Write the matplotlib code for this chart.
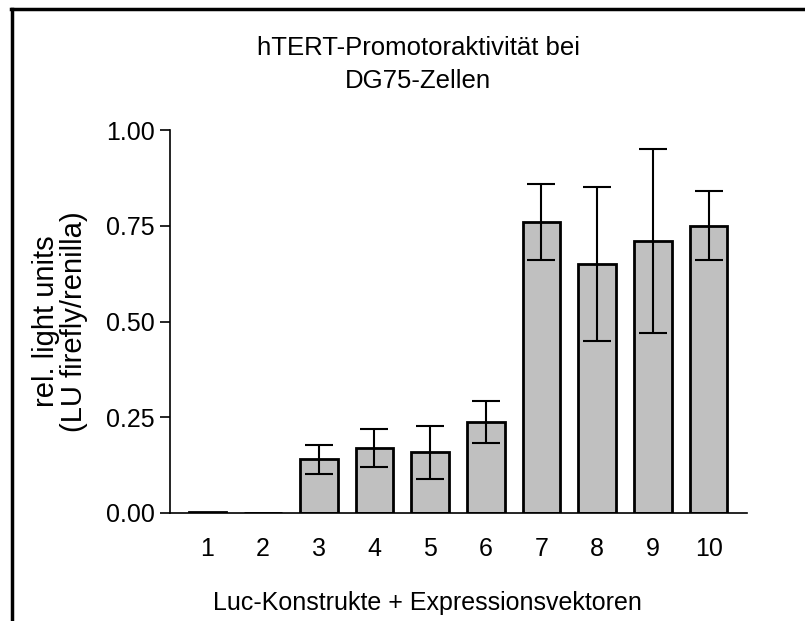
import numpy as np
import matplotlib
matplotlib.use("Agg")
import matplotlib.pyplot as plt
from matplotlib.lines import Line2D

plt.rcParams['font.family'] = ['Liberation Sans', 'DejaVu Sans']

# data
groups = ['1', '2', '3', '4', '5', '6', '7', '8', '9', '10']
means = [0.002, 0.001, 0.14, 0.17, 0.158, 0.237, 0.76, 0.65, 0.71, 0.75]
errs = [0.0, 0.0, 0.038, 0.05, 0.07, 0.055, 0.10, 0.20, 0.24, 0.09]
yticks = [0.0, 0.25, 0.5, 0.75, 1.0]

fig = plt.figure(figsize=(8.05, 6.21), dpi=100)
ax = fig.add_axes([170 / 805, (621 - 513) / 621, (747 - 170) / 805, (513 - 130) / 621])

x = np.arange(1, len(groups) + 1)
ax.bar(x, means, width=0.675, color='#c0c0c0', edgecolor='black', linewidth=2.0, zorder=2)
ax.errorbar(x[2:], means[2:], yerr=errs[2:], fmt='none', ecolor='black',
            elinewidth=1.5, capsize=10, capthick=1.5, zorder=3)

ax.set_xlim(0.33, 10.69)
ax.set_ylim(0, 1.0)
ax.set_xticks(x)
ax.set_xticklabels(groups)
ax.set_yticks(yticks)
ax.set_yticklabels(['%.2f' % v for v in yticks])
ax.tick_params(axis='x', length=0, pad=17, labelsize=18)
ax.tick_params(axis='y', length=7, width=1.2, pad=4, labelsize=18)
for s in ['top', 'right']:
    ax.spines[s].set_visible(False)
ax.spines['left'].set_linewidth(1.2)
ax.spines['bottom'].set_linewidth(1.2)

ax.set_title('hTERT-Promotoraktivität bei\nDG75-Zellen', fontsize=18.5, pad=30,
             linespacing=1.5, x=0.43)
ax.set_ylabel('rel. light units\n(LU firefly/renilla)', fontsize=21, labelpad=13, linespacing=1.0)
ax.set_xlabel('Luc-Konstrukte + Expressionsvektoren', fontsize=18, labelpad=22)
ax.xaxis.label.set_x(0.447)

# frame lines on top and left of the figure
fig.add_artist(Line2D([12 / 805, 12 / 805], [0, 1 - 9 / 621], transform=fig.transFigure,
                      color='black', linewidth=2.5))
fig.add_artist(Line2D([11 / 805, 1], [1 - 8.5 / 621, 1 - 8.5 / 621], transform=fig.transFigure,
                      color='black', linewidth=2.5))

fig.savefig('out.png', dpi=100)
